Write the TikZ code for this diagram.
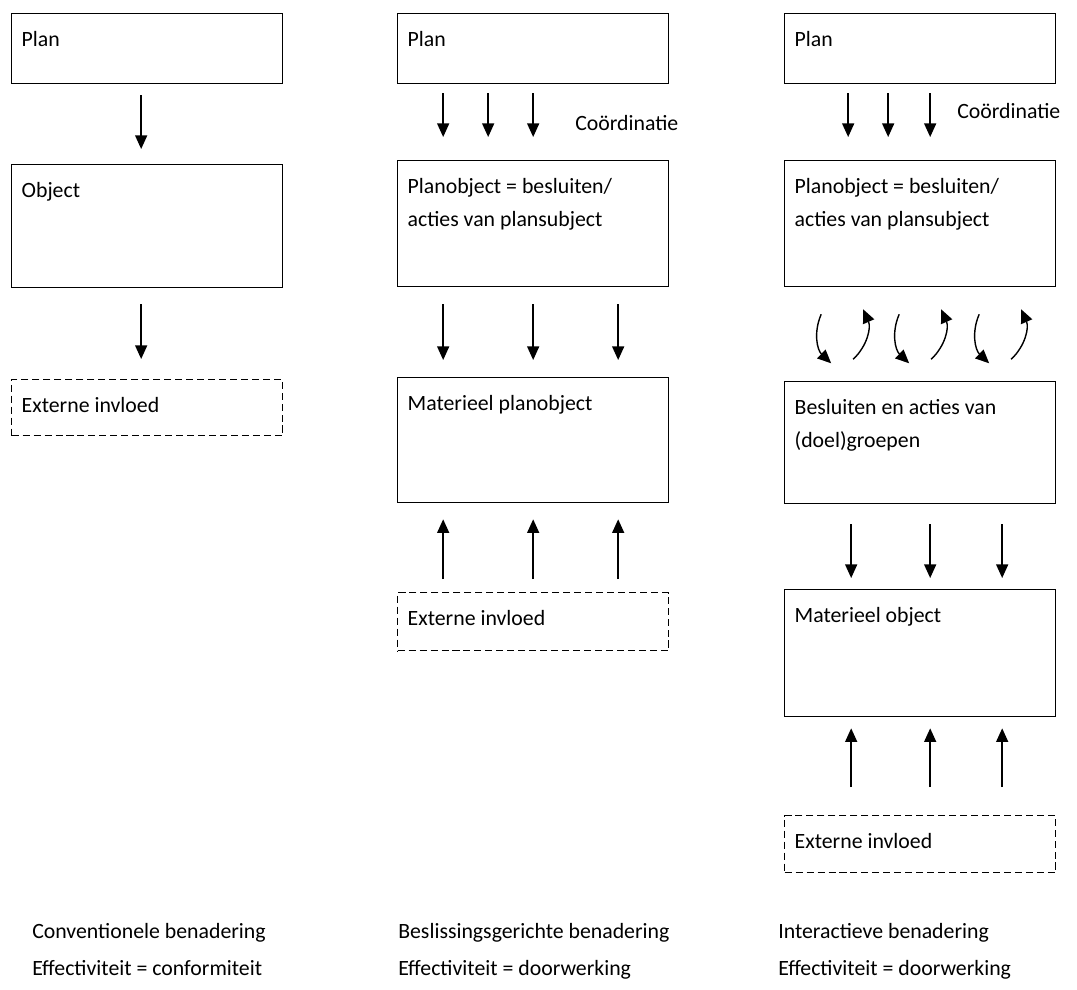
\documentclass[tikz,border=0pt]{standalone}
\usepackage{fontspec}
\setmainfont{Carlito}
\usetikzlibrary{arrows.meta,calc}

\begin{document}
\begin{tikzpicture}[x=0.025cm, y=-0.025cm,
    blok/.style={draw, line width=0.9pt, anchor=north west, inner xsep=0.25cm, inner ysep=0.45cm, font=\fontsize{15.5}{23}\selectfont},
    extern/.style={blok, dash pattern=on 5pt off 2.8pt},
    pijl/.style={-{Triangle[length=0.34cm,width=0.3cm]}, line width=1pt},
    tekst/.style={anchor=base west, inner sep=0pt, font=\fontsize{15.5}{23}\selectfont},
  ]
    \useasboundingbox (0,0) rectangle (1077,989);

    % Conventionele benadering
    \node[blok] (plan1) at (11,13) {\parbox[t][0.85cm][t]{6.275cm}{\raggedright Plan}};
    \node[blok] (obj1) at (11,164) {\parbox[t][2.175cm][t]{6.275cm}{\raggedright Object}};
    \node[extern] (ext1) at (11,379) {\parbox[t][0.5cm][t]{6.275cm}{\raggedright Externe invloed}};
    \draw[pijl, shorten <=0.275cm, shorten >=0.375cm] ($(plan1.south)+(-6,0)$) -- ($(obj1.north)+(-6,0)$);
    \draw[pijl, shorten <=0.4cm, shorten >=0.5cm] ($(obj1.south)+(-6,0)$) -- ($(ext1.north)+(-6,0)$);

    % Beslissingsgerichte benadering
    \node[blok] (plan2) at (397,13) {\parbox[t][0.85cm][t]{6.275cm}{\raggedright Plan}};
    \node[blok] (po2) at (397,160) {\parbox[t][2.25cm][t]{6.275cm}{\raggedright Planobject = besluiten/\\acties van plansubject}};
    \node[blok] (mat2) at (397,377) {\parbox[t][2.225cm][t]{6.275cm}{\raggedright Materieel planobject}};
    \node[extern] (ext2) at (397,592) {\parbox[t][0.55cm][t]{6.275cm}{\raggedright Externe invloed}};
    \node[tekst] (co2) at (575,130) {Coördinatie};
    \foreach \dx in {-90,-45,0}
      \draw[pijl, shorten <=0.225cm, shorten >=0.575cm] ($(plan2.south)+(\dx,0)$) -- ($(po2.north)+(\dx,0)$);
    \foreach \dx in {-90,0,85} {
      \draw[pijl, shorten <=0.425cm, shorten >=0.425cm] ($(po2.south)+(\dx,0)$) -- ($(mat2.north)+(\dx,0)$);
      \draw[pijl, shorten <=0.325cm, shorten >=0.4cm] ($(ext2.north)+(\dx,0)$) -- ($(mat2.south)+(\dx,0)$);
    }

    % Interactieve benadering
    \node[blok] (plan3) at (784,13) {\parbox[t][0.85cm][t]{6.275cm}{\raggedright Plan}};
    \node[blok] (po3) at (784,160) {\parbox[t][2.25cm][t]{6.275cm}{\raggedright Planobject = besluiten/\\acties van plansubject}};
    \node[blok] (bes3) at (784,381) {\parbox[t][2.15cm][t]{6.275cm}{\raggedright Besluiten en acties van\\(doel)groepen}};
    \node[blok] (mat3) at (784,589) {\parbox[t][2.275cm][t]{6.275cm}{\raggedright Materieel object}};
    \node[extern] (ext3) at (784,815) {\parbox[t][0.525cm][t]{6.275cm}{\raggedright Externe invloed}};
    \node[tekst] (co3) at (957,118) {Coördinatie};
    \foreach \dx in {-72,-32,10}
      \draw[pijl, shorten <=0.225cm, shorten >=0.575cm] ($(plan3.south)+(\dx,0)$) -- ($(po3.north)+(\dx,0)$);
    \foreach \dx in {-99,-21,59} {
      \draw[pijl] ($(po3.south)+(\dx,27)$) to[bend right=35] ($(po3.south)+(\dx+10,76)$);
      \draw[pijl] ($(po3.south)+(\dx+32,72)$) to[bend right=35] ($(po3.south)+(\dx+42,22)$);
    }
    \foreach \dx in {-69,10,82} {
      \draw[pijl, shorten <=0.5cm, shorten >=0.275cm] ($(bes3.south)+(\dx,0)$) -- ($(mat3.north)+(\dx,0)$);
      \draw[pijl, shorten <=0.7cm, shorten >=0.275cm] ($(ext3.north)+(\dx,0)$) -- ($(mat3.south)+(\dx,0)$);
    }

    % Onderschriften
    \node[tekst] (ben1) at (32,938) {Conventionele benadering};
    \node[tekst] (eff1) at (32,975) {Effectiviteit = conformiteit};
    \node[tekst] (ben2) at (398,938) {Beslissingsgerichte benadering};
    \node[tekst] (eff2) at (398,975) {Effectiviteit = doorwerking};
    \node[tekst] (ben3) at (778,938) {Interactieve benadering};
    \node[tekst] (eff3) at (778,975) {Effectiviteit = doorwerking};
\end{tikzpicture}
\end{document}
